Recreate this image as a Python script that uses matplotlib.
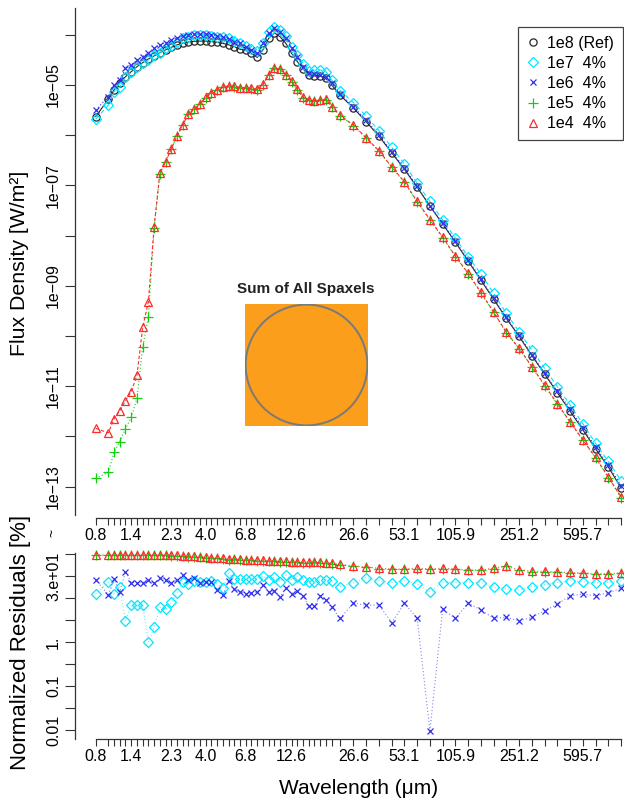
import numpy as np
import matplotlib.pyplot as plt
from matplotlib.lines import Line2D
from matplotlib.patches import Rectangle, Circle
from matplotlib.ticker import NullLocator

plt.rcParams['font.family'] = ['Liberation Sans', 'DejaVu Sans']

# wavelength grid [micron]
wavelength = [0.81,
    0.961, 1.038, 1.122, 1.213, 1.311, 1.417, 1.531, 1.654, 1.788, 1.932,
    2.088, 2.256, 2.438, 2.635, 2.848, 3.077, 3.326, 3.594, 3.884, 4.198,
    4.536, 4.902, 5.298, 5.725, 6.187, 6.686, 7.225, 7.808, 8.438, 9.120,
    9.856, 10.65, 11.51, 12.44, 13.44, 14.53, 15.70, 16.97, 18.33, 19.82,
    22.2,
    26.6, 31.6, 37.6, 44.7, 53.1, 63.1, 75.0, 89.1, 105.9, 125.9, 149.6,
    177.8, 211.3, 251.2, 298.5, 354.8, 421.7, 501.2, 595.7, 707.9, 841.4, 1000.0]

# labelled wavelength ticks (index into grid, text)
xlabel_idx = [0, 5, 12, 18, 25, 33, 42, 46, 50, 55, 60]
xlabel_txt = ['0.8', '1.4', '2.3', '4.0', '6.8', '12.6', '26.6', '53.1', '105.9', '251.2', '595.7']

# log10 flux density [W/m2] per photon count
ref_log = [-5.63,
    -5.285, -5.10, -4.955, -4.835, -4.735, -4.635, -4.555, -4.48, -4.42, -4.355,
    -4.30, -4.25, -4.20, -4.17, -4.14, -4.13, -4.125, -4.125, -4.135, -4.15,
    -4.17, -4.20, -4.235, -4.29, -4.30, -4.37, -4.45, -4.30, -4.07, -3.96,
    -4.04, -4.17, -4.37, -4.535, -4.68, -4.80, -4.82, -4.82, -4.87, -5.00,
    -5.20,
    -5.46, -5.73, -6.02, -6.35, -6.68, -7.04, -7.41, -7.77, -8.13, -8.51, -8.885,
    -9.27, -9.65, -10.01, -10.39, -10.76, -11.13, -11.50, -11.87, -12.25, -12.61, -13.03]
e7_log = [-5.68,
    -5.40, -5.13, -5.045, -4.85, -4.735, -4.635, -4.57, -4.50, -4.40, -4.355,
    -4.27, -4.22, -4.135, -4.07, -4.04, -4.01, -4.01, -4.01, -4.02, -4.035,
    -4.05, -4.07, -4.115, -4.155, -4.22, -4.29, -4.32, -4.155, -3.95, -3.84,
    -3.90, -4.02, -4.235, -4.40, -4.575, -4.715, -4.70, -4.70, -4.735, -4.90,
    -5.11,
    -5.35, -5.62, -5.91, -6.24, -6.575, -6.96, -7.32, -7.69, -8.05, -8.42, -8.765,
    -9.15, -9.55, -9.915, -10.28, -10.645, -11.01, -11.375, -11.75, -12.14, -12.50, -12.88]
e6_log = [-5.50,
    -5.23, -5.00, -4.90, -4.67, -4.60, -4.50, -4.435, -4.355, -4.27, -4.20,
    -4.155, -4.10, -4.07, -4.02, -4.00, -3.985, -3.985, -3.99, -4.00, -4.02,
    -4.05, -4.09, -4.135, -4.17, -4.235, -4.30, -4.37, -4.17, -3.97, -3.87,
    -3.94, -4.07, -4.27, -4.435, -4.635, -4.77, -4.78, -4.80, -4.84, -4.97,
    -5.18,
    -5.43, -5.70, -5.99, -6.33, -6.65, -7.02, -7.41, -7.75, -8.11, -8.48, -8.86,
    -9.25, -9.63, -9.99, -10.37, -10.74, -11.10, -11.46, -11.83, -12.21, -12.57, -12.98]
e5_log = [-12.835,
    -12.715, -12.32, -12.105, -11.85, -11.62, -11.24, -10.225, -9.615, -7.85, -6.77,
    -6.53, -6.28, -6.02, -5.80, -5.58, -5.48, -5.37, -5.25, -5.15, -5.10,
    -5.04, -5.02, -5.03, -5.05, -5.06, -5.07, -5.09, -4.99, -4.80, -4.67,
    -4.69, -4.80, -4.94, -5.09, -5.25, -5.30, -5.31, -5.30, -5.29, -5.43,
    -5.61,
    -5.81, -6.06, -6.32, -6.64, -6.94, -7.33, -7.69, -8.04, -8.42, -8.76, -9.14,
    -9.53, -9.94, -10.25, -10.62, -10.99, -11.36, -11.72, -12.08, -12.43, -12.82, -13.22]
e4_log = [-11.84,
    -11.93, -11.65, -11.49, -11.29, -11.11, -10.78, -9.83, -9.32, -7.82, -6.76,
    -6.53, -6.27, -6.02, -5.79, -5.58, -5.48, -5.38, -5.245, -5.15, -5.10,
    -5.045, -5.02, -5.02, -5.05, -5.05, -5.065, -5.085, -4.985, -4.80, -4.67,
    -4.68, -4.80, -4.93, -5.085, -5.245, -5.30, -5.31, -5.30, -5.285, -5.43,
    -5.60,
    -5.80, -6.05, -6.31, -6.63, -6.93, -7.32, -7.68, -8.03, -8.41, -8.75, -9.13,
    -9.52, -9.93, -10.245, -10.61, -10.98, -11.35, -11.71, -12.07, -12.42, -12.81, -13.21]

# log10 normalized residuals [%]
res7_log = [1.09,
    1.36, 1.09, 1.26, 0.48, 0.83, 0.83, 0.84, 0.00, 0.33, 0.79,
    0.74, 0.91, 1.11, 1.36, 1.32, 1.39, 1.36, 1.36, 1.39, 1.32,
    1.23, 1.56, 1.43, 1.43, 1.43, 1.43, 1.43, 1.50, 1.42, 1.47,
    1.37, 1.52, 1.42, 1.48, 1.42, 1.37, 1.37, 1.42, 1.42, 1.39,
    1.26,
    1.35, 1.46, 1.39, 1.35, 1.39, 1.32, 1.14, 1.35, 1.35, 1.35, 1.35,
    1.24, 1.21, 1.18, 1.26, 1.30, 1.35, 1.39, 1.37, 1.35, 1.35, 1.39]
res6_log = [1.42,
    1.07, 1.44, 1.14, 1.60, 1.35, 1.35, 1.35, 1.41, 1.33, 1.45,
    1.42, 1.35, 1.41, 1.52, 1.42, 1.45, 1.35, 1.37, 1.37, 1.18,
    1.07, 1.39, 1.20, 1.14, 1.10, 1.12, 1.14, 1.30, 1.14, 1.17,
    1.03, 1.23, 1.10, 1.17, 1.05, 0.82, 0.82, 1.05, 0.95, 0.79,
    0.54,
    0.88, 0.84, 0.84, 0.44, 0.88, 0.54, -2.02, 0.74, 0.54, 0.88, 0.73,
    0.54, 0.56, 0.48, 0.56, 0.71, 0.86, 1.05, 1.09, 1.05, 1.12, 1.22]
res5_log = [1.97,
    1.97, 1.97, 1.97, 1.97, 1.97, 1.97, 1.97, 1.97, 1.97, 1.97,
    1.97, 1.96, 1.96, 1.95, 1.94, 1.94, 1.93, 1.92, 1.91, 1.90,
    1.89, 1.87, 1.88, 1.87, 1.86, 1.86, 1.85, 1.85, 1.84, 1.83,
    1.82, 1.82, 1.81, 1.81, 1.80, 1.80, 1.81, 1.80, 1.79, 1.78,
    1.76,
    1.72, 1.70, 1.67, 1.65, 1.65, 1.67, 1.65, 1.67, 1.65, 1.63, 1.63,
    1.67, 1.72, 1.63, 1.60, 1.60, 1.58, 1.57, 1.56, 1.54, 1.54, 1.56]
res4_log = [1.98,
    1.98, 1.98, 1.98, 1.98, 1.98, 1.98, 1.98, 1.98, 1.98, 1.98,
    1.98, 1.97, 1.97, 1.96, 1.95, 1.95, 1.94, 1.93, 1.92, 1.91,
    1.90, 1.88, 1.89, 1.88, 1.87, 1.87, 1.86, 1.86, 1.85, 1.84,
    1.83, 1.83, 1.82, 1.82, 1.81, 1.81, 1.82, 1.81, 1.80, 1.79,
    1.77,
    1.73, 1.71, 1.68, 1.66, 1.66, 1.68, 1.66, 1.68, 1.66, 1.64, 1.64,
    1.68, 1.73, 1.64, 1.61, 1.61, 1.59, 1.58, 1.57, 1.55, 1.55, 1.57]

labels = ['1e8 (Ref)', '1e7  4%', '1e6  4%', '1e5  4%', '1e4  4%']
colors = ['#262626', '#00E5FF', '#2E2EF0', '#10D010', '#FF2A2A']
markers = ['o', 'D', 'x', '+', '^']
msizes = [5.2, 4.6, 5.0, 6.5, 5.2]
lstyles = ['-', (0, (4, 3)), (0, (1, 2)), (0, (1, 2)), (0, (3, 2))]

W, H = 624, 807
def rect(x0, y0, x1, y1):
    return [x0 / W, 1 - y1 / H, (x1 - x0) / W, (y1 - y0) / H]

fig = plt.figure(figsize=(W / 100, H / 100), dpi=100)
ax = fig.add_axes(rect(75, 8, 624, 518))
ax2 = fig.add_axes(rect(75, 553, 624, 739))

wl = np.array(wavelength)
fluxes = [ref_log, e7_log, e6_log, e5_log, e4_log]
for vals, c, m, ms, ls in zip(fluxes, colors, markers, msizes, lstyles):
    ax.plot(wl, 10.0 ** np.array(vals), color=c, ls=ls, lw=0.8, marker=m, ms=ms,
            mfc='none', mec=c, mew=0.9, clip_on=False)

resids = [res7_log, res6_log, res5_log, res4_log]
for vals, c, m, ms, ls in zip(resids, colors[1:], markers[1:], msizes[1:], lstyles[1:]):
    ax2.plot(wl, 10.0 ** np.array(vals), color=c, ls='none', marker=m, ms=ms,
             mfc='none', mec=c, mew=0.9, clip_on=False)
    ax2.plot(wl, 10.0 ** np.array(vals), color=c, ls=(0, (1, 2)), lw=0.8, alpha=0.6)

xticks_txt = [''] * len(wavelength)
for i, t in zip(xlabel_idx, xlabel_txt):
    xticks_txt[i] = t

for a in (ax, ax2):
    a.set_xscale('log')
    a.set_yscale('log')
    a.set_xlim(0.612, 1040)
    a.xaxis.set_minor_locator(NullLocator())
    a.yaxis.set_minor_locator(NullLocator())
    a.set_xticks(wavelength)
    a.set_xticklabels(xticks_txt)
    a.spines[['top', 'right']].set_visible(False)
    for s in ('left', 'bottom'):
        a.spines[s].set_color('#333333')
        a.spines[s].set_linewidth(0.9)
    a.spines['bottom'].set_bounds(wavelength[0], wavelength[-1])
    a.tick_params(axis='x', length=5, width=0.8, pad=2, labelsize=11.5, color='#333333')
    a.tick_params(axis='y', length=7, width=0.8, pad=3, labelsize=11.5, color='#333333',
                  labelrotation=90)
    a.patch.set_alpha(0)

# flux panel
ax.set_ylim(10 ** -13.626, 10 ** -3.466)
ax.spines['left'].set_bounds(10 ** -13.566, 10 ** -3.466)
yt = [10.0 ** e for e in range(-4, -14, -1)]
ax.set_yticks(yt)
ax.set_yticklabels(['' if e % 2 == 0 else '1e\u2212%02d' % (-e) for e in range(-4, -14, -1)])
for lab in ax.get_yticklabels():
    lab.set_va('center')

# residual panel
ax2.set_ylim(10 ** -2.205, 10 ** 2.023)
rt = [10.0 ** (k / 2) for k in range(-4, 5)]
rt_txt = ['0.01', '', '0.1', '', '1.', '', '', '3.e+01', '']
ax2.set_yticks(rt)
ax2.set_yticklabels(rt_txt)
for lab in ax2.get_yticklabels():
    lab.set_va('center')

handles = [Line2D([], [], ls='none', marker=m, ms=ms, mfc='none', mec=c, mew=0.9)
           for m, ms, c in zip(markers, msizes, colors)]
leg = ax.legend(handles, labels, loc='upper right', bbox_to_anchor=(623 / W, 1 - 27 / H),
                bbox_transform=fig.transFigure, borderaxespad=0, fontsize=11.5,
                frameon=True, fancybox=False, framealpha=1, handlelength=0.8,
                handletextpad=0.5, labelspacing=0.32, borderpad=0.55)
leg.get_frame().set_edgecolor('#444444')
leg.get_frame().set_linewidth(0.9)

# inset
axi = fig.add_axes(rect(245, 304, 368, 426))
axi.set_xlim(0, 1)
axi.set_ylim(0, 1)
axi.axis('off')
axi.add_patch(Rectangle((0, 0), 1, 1, fc='#FA9E1B', ec='none'))
axi.add_patch(Circle((0.5, 0.5), 0.495, fc='none', ec='#7A7A7A', lw=1.4))
fig.text(306 / W, 1 - 289 / H, 'Sum of All Spaxels', ha='center', va='center',
         fontsize=11, fontweight='bold', color='#222222')

fig.text(20 / W, 1 - 263 / H, 'Flux Density [W/m\u00b2]', rotation=90, ha='center',
         va='center', fontsize=15.3)
fig.text(21 / W, 1 - 642 / H, 'Normalized Residuals [%]', rotation=90, ha='center',
         va='center', fontsize=16)
fig.text(359 / W, 1 - 789 / H, 'Wavelength (\u03bcm)', ha='center', va='center', fontsize=15)
fig.text(52 / W, 1 - 533 / H, '~', rotation=90, ha='center', va='center', fontsize=10)

fig.savefig('out.png', dpi=100)
